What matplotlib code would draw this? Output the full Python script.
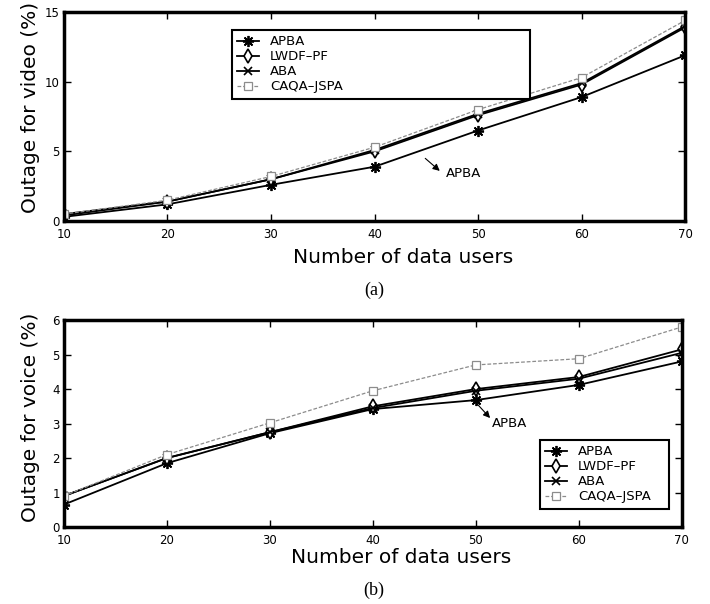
import matplotlib
matplotlib.use("Agg")
import matplotlib.pyplot as plt

users = [10, 20, 30, 40, 50, 60, 70]
names = ["APBA", "LWDF\u2013PF", "ABA", "CAQA\u2013JSPA"]

# outage for video (%)
apba_video = [0.3, 1.2, 2.6, 3.9, 6.5, 8.9, 11.9]
lwdf_video = [0.5, 1.4, 3.0, 5.0, 7.6, 9.8, 13.9]
aba_video = [0.4, 1.4, 3.0, 5.1, 7.7, 9.9, 14.0]
caqa_video = [0.5, 1.5, 3.2, 5.3, 8.0, 10.3, 14.4]

# outage for voice (%)
apba_voice = [0.65, 1.85, 2.72, 3.42, 3.68, 4.12, 4.8]
lwdf_voice = [0.9, 2.0, 2.75, 3.5, 4.0, 4.35, 5.15]
aba_voice = [0.9, 2.0, 2.75, 3.45, 3.95, 4.3, 5.05]
caqa_voice = [0.9, 2.1, 3.02, 3.95, 4.7, 4.88, 5.8]

plt.rcParams['font.family'] = ['DejaVu Sans']

styles = [
    dict(color='black', marker=(8, 2, 0), ms=8, mew=1.3, lw=1.3, ls='-'),
    dict(color='black', marker='d', ms=7, mfc='white', mew=1.2, lw=1.3, ls='-'),
    dict(color='black', marker='x', ms=6, mew=1.2, lw=1.3, ls='-'),
    dict(color='#8c8c8c', marker='s', ms=6, mfc='white', mew=0.9, lw=0.9, ls=(0, (3, 1.5))),
]
arrow = dict(arrowstyle='-|>', color='black', lw=0.8, shrinkA=0, shrinkB=0,
             mutation_scale=10)


def style_axes(ax, ymax, yticks):
    ax.set_xlim(10, 70)
    ax.set_ylim(0, ymax)
    ax.set_xticks(users)
    ax.set_yticks(yticks)
    ax.tick_params(direction='in', top=True, right=True, labelsize=8.5,
                   length=5, width=1)
    ax.tick_params(axis='x', pad=5)
    ax.tick_params(axis='y', pad=3)
    for sp in ax.spines.values():
        sp.set_linewidth(2.5)


def add_legend(ax, box):
    leg = ax.legend(loc='upper left', bbox_to_anchor=box, mode='expand',
                    borderaxespad=0, fontsize=9.5, fancybox=False,
                    edgecolor='black', handlelength=1.7, labelspacing=0.15,
                    borderpad=0.4, framealpha=1)
    leg.get_frame().set_linewidth(1.5)


fig = plt.figure(figsize=(7.10, 6.04), dpi=100)

# (a) video
ax1 = fig.add_axes([0.090, 0.634, 0.875, 0.346])
for vals, name, st in zip([apba_video, lwdf_video, aba_video, caqa_video], names, styles):
    ax1.plot(users, vals, label=name, **st)
style_axes(ax1, 15, [0, 5, 10, 15])
ax1.set_xlabel("Number of data users", fontsize=14.5)
ax1.xaxis.set_label_coords(0.546, -0.13)
ax1.set_ylabel("Outage for video (%)", fontsize=14.5)
ax1.yaxis.set_label_coords(-0.039, 0.545)
add_legend(ax1, (0.27, 0.589, 0.48, 0.325))
ax1.annotate("", xy=(46.3, 3.6), xytext=(44.9, 4.5), arrowprops=arrow)
ax1.text(46.9, 3.4, "APBA", fontsize=9.5, va='center', ha='left')
fig.text(0.527, 0.52, "(a)", fontsize=13, family='Liberation Serif',
         ha='center', va='center')

# (b) voice
ax2 = fig.add_axes([0.090, 0.1275, 0.870, 0.3425])
for vals, name, st in zip([apba_voice, lwdf_voice, aba_voice, caqa_voice], names, styles):
    ax2.plot(users, vals, label=name, **st)
style_axes(ax2, 6, [0, 1, 2, 3, 4, 5, 6])
ax2.set_xlabel("Number of data users", fontsize=14.5)
ax2.xaxis.set_label_coords(0.546, -0.10)
ax2.set_ylabel("Outage for voice (%)", fontsize=14.5)
ax2.yaxis.set_label_coords(-0.039, 0.53)
add_legend(ax2, (0.77, 0.097, 0.209, 0.323))
ax2.annotate("", xy=(51.4, 3.16), xytext=(49.8, 3.68), arrowprops=arrow)
ax2.text(51.6, 3.0, "APBA", fontsize=9.5, va='center', ha='left')
fig.text(0.527, 0.023, "(b)", fontsize=13, family='Liberation Serif',
         ha='center', va='center')

fig.savefig("out.png", dpi=100)
